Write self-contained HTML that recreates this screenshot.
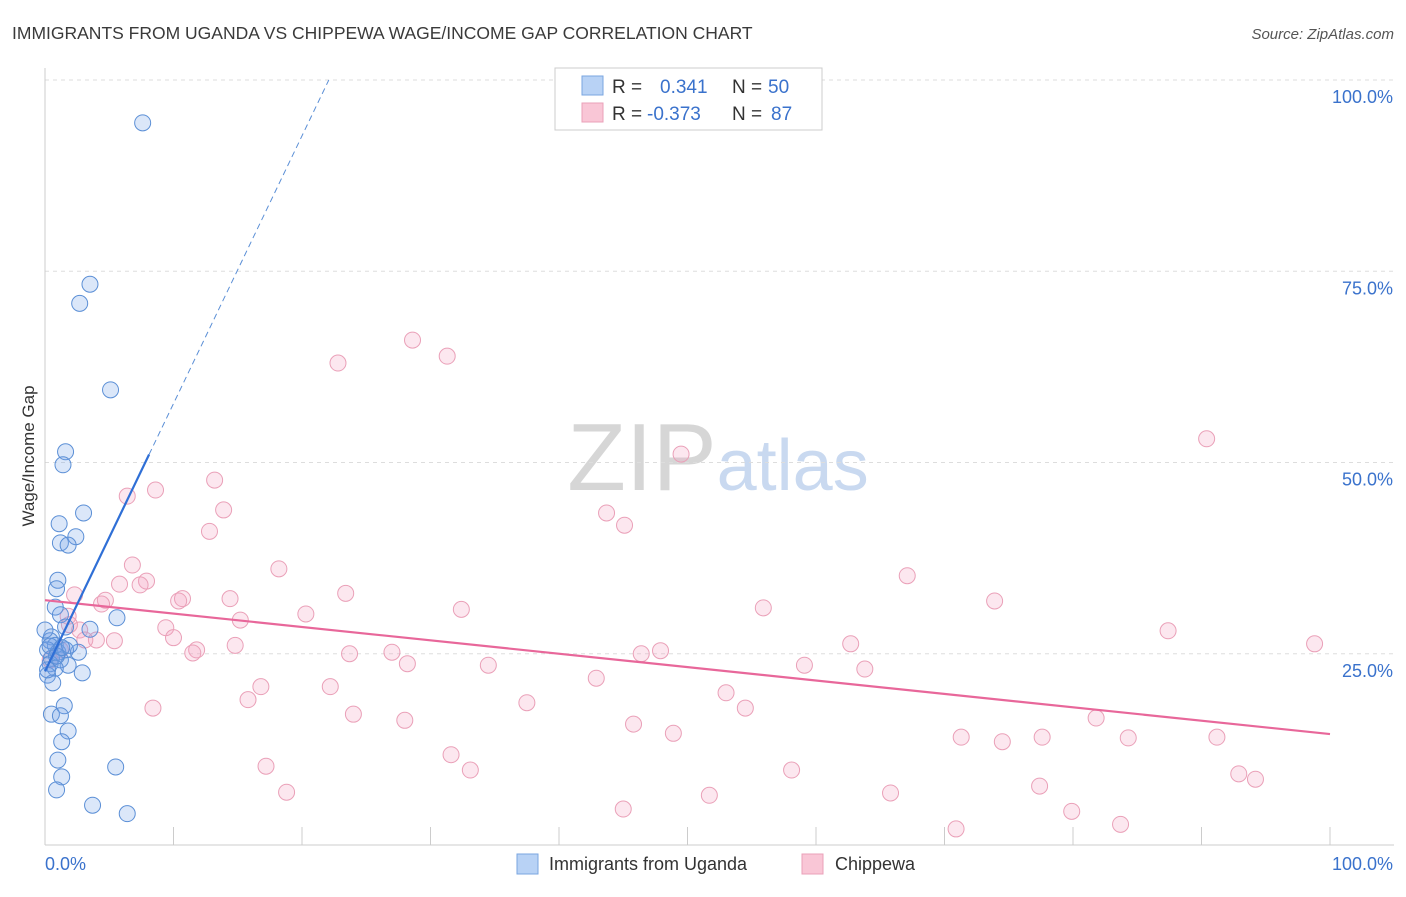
<!DOCTYPE html>
<html><head><meta charset="utf-8"><style>
body{margin:0;background:#fff;font-family:"Liberation Sans",sans-serif;}
svg text{font-family:"Liberation Sans",sans-serif;}
</style></head><body>
<svg id="chart" width="1406" height="892" viewBox="0 0 1406 892" xmlns="http://www.w3.org/2000/svg">
<text x="12" y="39" font-size="17.5" fill="#3a3a3a">IMMIGRANTS FROM UGANDA VS CHIPPEWA WAGE/INCOME GAP CORRELATION CHART</text>
<text x="1394" y="39" font-size="15" fill="#555" font-style="italic" text-anchor="end">Source: ZipAtlas.com</text>
<text x="718" y="490" font-size="96" text-anchor="middle" fill="#ddd" font-family="Liberation Serif"><tspan fill="#d6d6d6">ZIP</tspan><tspan fill="#c9d9f0" font-family="Liberation Sans" font-size="72">atlas</tspan></text>
<g id="grid"></g>
<g id="axes"></g>
<g id="marks"></g>
<text transform="translate(34,456) rotate(-90)" font-size="17" fill="#333" text-anchor="middle">Wage/Income Gap</text>
<g>
<rect x="555" y="68" width="267" height="62" fill="#fff" stroke="#ccc"/>
<rect x="582" y="76" width="21" height="19" fill="#b8d2f5" stroke="#7aa6e0"/>
<rect x="582" y="103" width="21" height="19" fill="#f9c6d6" stroke="#eaa0b8"/>
<text x="612" y="93" font-size="19" fill="#333">R =</text>
<text x="660" y="93" font-size="19" fill="#3a72cc">0.341</text>
<text x="732" y="93" font-size="19" fill="#333">N =</text>
<text x="768" y="93" font-size="19" fill="#3a72cc">50</text>
<text x="612" y="120" font-size="19" fill="#333">R =</text>
<text x="647" y="120" font-size="19" fill="#3a72cc">-0.373</text>
<text x="732" y="120" font-size="19" fill="#333">N =</text>
<text x="771" y="120" font-size="19" fill="#3a72cc">87</text>
</g>
<g>
<rect x="517" y="854" width="21" height="20" fill="#b8d2f5" stroke="#7aa6e0"/>
<text x="549" y="870" font-size="18" fill="#333">Immigrants from Uganda</text>
<rect x="802" y="854" width="21" height="20" fill="#f9c6d6" stroke="#eaa0b8"/>
<text x="835" y="870" font-size="18" fill="#333">Chippewa</text>
</g>
</svg>
<script>
const blueX=[7.6,3.5,2.7,5.1,1.6,1.4,3.0,1.1,2.4,1.2,1.8,1.0,0.9,0.8,1.2,5.6,1.6,3.5,0.5,0.4,0.8,0.2,1.0,1.6,2.6,0.5,1.2,1.8,0.4,2.9,0.8,0.2,0.6,1.5,0.5,1.2,1.8,1.3,1.0,5.5,1.3,0.9,3.7,6.4,0.0,0.4,1.9,0.9,0.2,1.3];
const blueY=[94.4,73.3,70.8,59.5,51.4,49.7,43.4,42.0,40.3,39.5,39.2,34.6,33.5,31.1,30.1,29.7,28.5,28.2,27.2,26.7,26.1,25.5,25.2,25.5,25.2,24.4,24.2,23.5,23.7,22.5,23.1,22.2,21.2,18.2,17.1,16.9,14.9,13.5,11.1,10.2,8.9,7.2,5.2,4.1,28.1,26.0,26.1,24.7,22.9,25.8];
const pinkX=[28.6,31.3,22.8,90.4,49.5,13.2,8.6,6.4,13.9,43.7,45.1,12.8,6.8,18.2,67.1,7.9,5.8,7.4,2.3,23.4,14.4,73.9,4.7,10.7,10.4,4.4,55.9,32.4,20.3,1.8,15.2,9.4,2.7,10.0,4.0,5.4,62.7,98.8,14.8,87.4,11.8,11.5,23.7,27.0,47.9,46.4,28.2,34.5,59.1,63.8,42.9,16.8,22.2,53.0,15.8,37.5,8.4,54.5,24.0,28.0,81.8,45.8,48.9,71.3,91.2,84.3,77.6,74.5,31.6,17.2,33.1,58.1,92.9,94.2,77.4,18.8,65.8,51.7,45.0,79.9,83.7,70.9,3.1,1.2,0.4,1.9];
const pinkY=[66.0,63.9,63.0,53.1,51.1,47.7,46.4,45.6,43.8,43.4,41.8,41.0,36.6,36.1,35.2,34.5,34.1,34.0,32.7,32.9,32.2,31.9,32.0,32.2,31.9,31.5,31.0,30.8,30.2,29.9,29.4,28.4,28.1,27.1,26.8,26.7,26.3,26.3,26.1,28.0,25.5,25.1,25.0,25.2,25.4,25.0,23.7,23.5,23.5,23.0,21.8,20.7,20.7,19.9,19.0,18.6,17.9,17.9,17.1,16.3,16.6,15.8,14.6,14.1,14.1,14.0,14.1,13.5,11.8,10.3,9.8,9.8,9.3,8.6,7.7,6.9,6.8,6.5,4.7,4.4,2.7,2.1,26.8,25.5,24.2,28.8];
const yTicks=[25,50,75,100];
const yTickLabels=["25.0%","50.0%","75.0%","100.0%"];
const blueFit=[22.7,3.5];
const blueSolidEnd=8.1;
const pinkFit=[32.0,-0.175];
const NS="http://www.w3.org/2000/svg";
const X0=45,X1=1330,Y0=845,Y100=80;
const sx=v=>X0+(X1-X0)*v/100;
const sy=v=>Y0-(Y0-Y100)*v/100;
function mk(tag,attrs,parent){const e=document.createElementNS(NS,tag);for(const k in attrs)e.setAttribute(k,attrs[k]);parent.appendChild(e);return e;}
const grid=document.getElementById('grid'),axes=document.getElementById('axes'),marks=document.getElementById('marks');
yTicks.forEach((t,i)=>{
  const l=mk('line',{x1:X0,x2:1394,y1:sy(t),y2:sy(t),stroke:'#ddd','stroke-dasharray':'4,4'},grid);
  
  
  const tx=mk('text',{x:1393,y:sy(t)+23,'font-size':18,fill:'#3a72cc','text-anchor':'end'},axes);
  tx.textContent=yTickLabels[i];
  
  
});
const xa=mk('line',{x1:X0,x2:1394,y1:Y0,y2:Y0,stroke:'#ccc'},axes);


const ya=mk('line',{x1:X0,x2:X0,y1:68,y2:Y0,stroke:'#ccc'},axes);


for(let i=0;i<=10;i++){const t=mk('line',{x1:sx(i*10),x2:sx(i*10),y1:Y0,y2:Y0-18,stroke:'#ccc'},axes);
  
  }
const xl0=mk('text',{x:45,y:870,'font-size':18,fill:'#3a72cc'},axes);xl0.textContent='0.0%';


const xl1=mk('text',{x:1393,y:870,'font-size':18,fill:'#3a72cc','text-anchor':'end'},axes);xl1.textContent='100.0%';


pinkX.forEach((x,i)=>{const c=mk('circle',{cx:sx(x),cy:sy(pinkY[i]),r:8,fill:'rgba(244,160,190,0.25)',stroke:'#eaa0b8','stroke-width':1},marks);
  
  });
blueX.forEach((x,i)=>{const c=mk('circle',{cx:sx(x),cy:sy(blueY[i]),r:8,fill:'rgba(110,160,230,0.25)',stroke:'#5b8fd6','stroke-width':1},marks);
  
  });
const pl=mk('line',{x1:sx(0),y1:sy(pinkFit[0]),x2:sx(100),y2:sy(pinkFit[0]+pinkFit[1]*100),stroke:'#e8679a','stroke-width':2.2},marks);


const bl=mk('line',{x1:sx(0),y1:sy(blueFit[0]),x2:sx(blueSolidEnd),y2:sy(blueFit[0]+blueFit[1]*blueSolidEnd),stroke:'#2f6fd6','stroke-width':2.2},marks);


const xe=(100-blueFit[0])/blueFit[1];
const bd=mk('line',{x1:sx(blueSolidEnd),y1:sy(blueFit[0]+blueFit[1]*blueSolidEnd),x2:sx(xe),y2:sy(100),stroke:'#5b8fd6','stroke-width':1,'stroke-dasharray':'6,4'},marks);


</script>
</body></html>
